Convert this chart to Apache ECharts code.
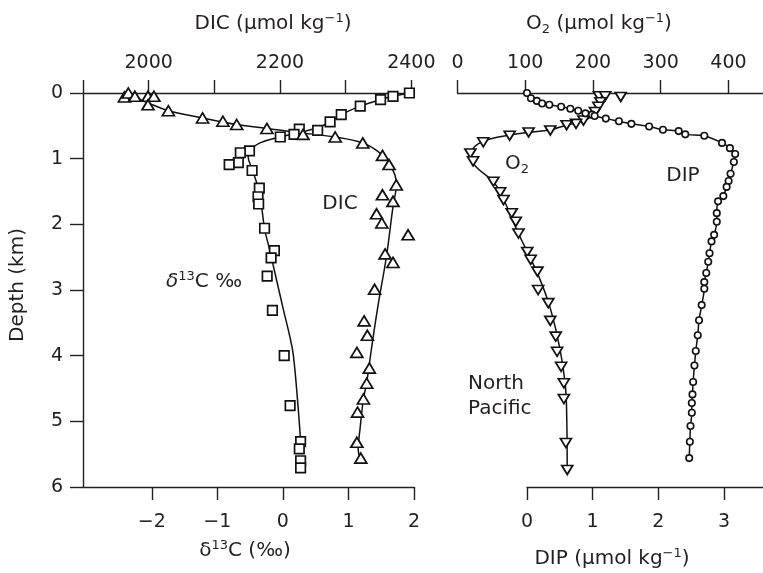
<!DOCTYPE html>
<html><head><meta charset="utf-8">
<script src="https://cdn.jsdelivr.net/npm/echarts@6/dist/echarts.min.js"></script>
<style>html,body{margin:0;padding:0;background:#fff}#c{width:763px;height:573px}</style>
</head><body><div id="c"></div>
<script>
// ---- tick values ----
const depthTicks = [0, 1, 2, 3, 4, 5, 6];
const d13cTicks = [-2, -1, 0, 1, 2];
const dicTickValues = [1900, 2000, 2100, 2200, 2300, 2400];
const dicLabelValues = [2000, 2200, 2400];
const o2Ticks = [0, 100, 200, 300, 400];
const dipTicks = [0, 1, 2, 3];

// ---- δ13C (‰) vs depth (km) : squares ----
const d13cObs = [[1.93,0.0],[1.68,0.05],[1.49,0.10],[1.18,0.20],[0.89,0.33],[0.72,0.44],[0.53,0.57],[0.25,0.55],[0.17,0.63],[-0.04,0.67],[-0.51,0.88],[-0.65,0.91],[-0.68,1.06],[-0.82,1.09],[-0.47,1.18],[-0.36,1.45],[-0.38,1.58],[-0.37,1.69],[-0.28,2.06],[-0.13,2.40],[-0.18,2.51],[-0.24,2.79],[-0.16,3.31],[0.02,4.00],[0.11,4.76],[0.27,5.31],[0.25,5.42],[0.27,5.60],[0.27,5.71]];
const d13cFit = [[1.93,0.0],[1.68,0.05],[1.49,0.10],[1.18,0.20],[0.89,0.33],[0.72,0.44],[0.53,0.53],[0.25,0.60],[-0.04,0.67],[-0.35,0.76],[-0.47,0.85],[-0.53,0.97],[-0.47,1.16],[-0.36,1.51],[-0.28,2.06],[-0.20,2.40],[-0.11,2.79],[0.01,3.31],[0.11,3.73],[0.16,4.0],[0.23,4.76],[0.27,5.31]];

// ---- DIC (µmol/kg) vs depth : triangles ----
const dicObs = [[1963,0.06],[1969,0.0],[1979,0.05],[1999,0.05],[2008,0.05],[1999,0.18],[2030,0.27],[2082,0.38],[2113,0.43],[2134,0.48],[2180,0.54],[2235,0.63],[2284,0.67],[2326,0.76],[2356,0.95],[2366,1.09],[2377,1.40],[2356,1.55],[2372,1.65],[2347,1.84],[2355,1.98],[2395,2.16],[2360,2.45],[2372,2.58],[2344,2.99],[2328,3.47],[2333,3.69],[2317,3.95],[2336,4.19],[2332,4.42],[2327,4.66],[2318,4.86],[2317,5.32],[2323,5.56]];
const dicFit = [[1971,0.03],[1999,0.15],[2030,0.27],[2082,0.38],[2134,0.48],[2180,0.54],[2225,0.60],[2284,0.67],[2326,0.76],[2349,0.89],[2365,1.05],[2375,1.25],[2377,1.40],[2372,1.73],[2362,2.49],[2349,3.25],[2339,3.91],[2332,4.41],[2327,4.66],[2322,5.10],[2319,5.43],[2322,5.56]];

// ---- O2 (µmol/kg) vs depth : inverted triangles ----
const o2Obs = [[209,0.05],[218,0.05],[241,0.06],[211,0.14],[208,0.21],[203,0.29],[186,0.42],[175,0.47],[161,0.49],[137,0.57],[105,0.60],[77,0.65],[38,0.75],[19,0.92],[23,1.04],[53,1.35],[63,1.51],[68,1.63],[80,1.83],[86,1.96],[90,2.14],[103,2.42],[108,2.54],[118,2.72],[119,3.00],[134,3.20],[137,3.47],[145,3.71],[147,3.94],[153,4.17],[157,4.42],[157,4.66],[160,5.33],[162,5.74]];
const o2Fit = [[210,0.06],[206,0.29],[196,0.37],[186,0.42],[161,0.49],[137,0.56],[105,0.60],[77,0.64],[48,0.70],[31,0.77],[21,0.87],[19,0.97],[28,1.13],[53,1.35],[65,1.55],[90,2.14],[119,2.77],[137,3.28],[151,3.89],[159,4.44],[161,4.80],[162,5.74]];

// ---- DIP (µmol/kg) vs depth : circles ----
const dipObs = [[0.0,0.0],[0.06,0.08],[0.15,0.12],[0.23,0.16],[0.34,0.18],[0.52,0.21],[0.66,0.24],[0.78,0.27],[0.89,0.31],[0.99,0.33],[1.03,0.35],[1.20,0.39],[1.40,0.43],[1.59,0.47],[1.86,0.51],[2.07,0.56],[2.31,0.58],[2.41,0.63],[2.70,0.65],[2.97,0.76],[3.09,0.84],[3.17,0.93],[3.15,1.05],[3.10,1.23],[3.07,1.34],[3.04,1.43],[2.99,1.57],[2.91,1.65],[2.89,1.83],[2.89,1.96],[2.85,2.16],[2.81,2.26],[2.78,2.44],[2.76,2.57],[2.73,2.74],[2.70,2.88],[2.70,2.98],[2.66,3.23],[2.62,3.46],[2.60,3.69],[2.57,3.93],[2.55,4.15],[2.53,4.40],[2.52,4.59],[2.51,4.72],[2.51,4.87],[2.49,5.07],[2.48,5.31],[2.47,5.56]];

const FONT = 'DejaVu Sans';
const INK = '#231f20';
const axisLine = {show: true, onZero: false, lineStyle: {color: INK, width: 1.4}};
const axisTickBase = {show: true, length: 13, lineStyle: {color: INK, width: 1.4}};
const lbl = {color: INK, fontFamily: FONT, fontSize: 19};
const minus = v => String(v).replace('-', '\u2212');
const plain = v => String(v);

const chart = echarts.init(document.getElementById('c'), null, {renderer: 'canvas'});

const yBase = {type: 'value', min: 0, max: 6, inverse: true, splitLine: {show: false}};
const markStyle = {color: '#fff', borderColor: '#111', borderWidth: 1.7, opacity: 1};
const fitLine = {color: '#111', width: 1.5};

const option = {
  animation: false,
  backgroundColor: '#ffffff',
  grid: [
    {left: 83, top: 93, width: 331, height: 394},
    {left: 457.5, top: 93, width: 305.5, height: 394},
    {left: 527, top: 93, width: 236, height: 394}
  ],
  xAxis: [
    {gridIndex: 0, type: 'value', position: 'bottom', min: -3.05, max: 2.0,
     axisLine: axisLine, splitLine: {show: false},
     axisTick: Object.assign({}, axisTickBase, {customValues: d13cTicks}),
     axisLabel: Object.assign({}, lbl, {customValues: d13cTicks, margin: 26, formatter: minus})},
    {gridIndex: 0, type: 'value', position: 'top', min: 1900, max: 2404,
     axisLine: axisLine, splitLine: {show: false},
     axisTick: Object.assign({}, axisTickBase, {customValues: dicTickValues}),
     axisLabel: Object.assign({}, lbl, {customValues: dicLabelValues, margin: 20, formatter: plain})},
    {gridIndex: 1, type: 'value', position: 'top', min: 0, max: 451, interval: 100,
     axisLine: axisLine, splitLine: {show: false},
     axisTick: Object.assign({}, axisTickBase, {customValues: o2Ticks}),
     axisLabel: Object.assign({}, lbl, {customValues: o2Ticks, margin: 20, formatter: plain})},
    {gridIndex: 2, type: 'value', position: 'bottom', min: 0, max: 3.594, interval: 1,
     axisLine: axisLine, splitLine: {show: false},
     axisTick: Object.assign({}, axisTickBase, {customValues: dipTicks}),
     axisLabel: Object.assign({}, lbl, {customValues: dipTicks, margin: 26, formatter: plain})}
  ],
  yAxis: [
    Object.assign({}, yBase, {gridIndex: 0, interval: 1, axisLine: axisLine,
      axisTick: Object.assign({}, axisTickBase, {customValues: depthTicks}),
      axisLabel: Object.assign({}, lbl, {customValues: depthTicks, margin: 20, formatter: plain})}),
    Object.assign({}, yBase, {gridIndex: 1, show: false}),
    Object.assign({}, yBase, {gridIndex: 2, show: false})
  ],
  series: [
    {type: 'line', xAxisIndex: 0, yAxisIndex: 0, data: d13cFit, smooth: 0.4, showSymbol: false,
     lineStyle: fitLine, z: 2, silent: true},
    {type: 'scatter', xAxisIndex: 0, yAxisIndex: 0, data: d13cObs, symbol: 'rect', symbolSize: 9.5,
     itemStyle: markStyle, z: 3, clip: false},
    {type: 'line', xAxisIndex: 1, yAxisIndex: 0, data: dicFit, smooth: 0.4, showSymbol: false,
     lineStyle: fitLine, z: 2, silent: true},
    {type: 'scatter', xAxisIndex: 1, yAxisIndex: 0, data: dicObs, symbol: 'triangle', symbolSize: [12, 10],
     itemStyle: markStyle, z: 3, clip: false},
    {type: 'line', xAxisIndex: 2, yAxisIndex: 1, data: o2Fit, smooth: 0.4, showSymbol: false,
     lineStyle: fitLine, z: 2, silent: true},
    {type: 'scatter', xAxisIndex: 2, yAxisIndex: 1, data: o2Obs, symbol: 'triangle', symbolRotate: 180, symbolSize: [11, 9],
     itemStyle: markStyle, z: 3, clip: false},
    {type: 'line', xAxisIndex: 3, yAxisIndex: 2, data: dipObs, smooth: 0.25, symbol: 'circle', symbolSize: 6.5, showSymbol: true,
     lineStyle: fitLine,
     itemStyle: {color: '#fff', borderColor: '#111', borderWidth: 1.6, opacity: 1}, z: 3, clip: false}
  ],
  graphic: [
    txt(273, 24, '{a|DIC (\u03bcmol kg}{s|\u22121}{a|)}'),
    txt(599, 24, '{a|O}{b|2}{a| (\u03bcmol kg}{s|\u22121}{a|)}'),
    txt(245, 551, '{a|\u03b4}{s|13}{a|C (\u2030)}'),
    txt(612, 559, '{a|DIP (\u03bcmol kg}{s|\u22121}{a|)}'),
    txt(340, 204, '{a|DIC}'),
    txt(204, 282, '{i|\u03b4}{s|13}{a|C \u2030}'),
    txt(505, 164, '{a|O}{b|2}', 'left'),
    txt(683, 176, '{a|DIP}'),
    txt(468, 384, '{a|North}', 'left'),
    txt(468, 409, '{a|Pacific}', 'left'),
    {type: 'text', x: 18, y: 285, rotation: Math.PI / 2,
     style: {text: 'Depth (km)', fill: INK, fontFamily: FONT, fontSize: 20,
       align: 'center', verticalAlign: 'middle', textAlign: 'center', textVerticalAlign: 'middle'}}
  ]
};

function txt(x, y, text, align) {
  align = align || 'center';
  return {type: 'text', x: x, y: y,
    style: {text: text, align: align, verticalAlign: 'middle', textAlign: align, textVerticalAlign: 'middle',
      fill: INK, fontFamily: FONT, fontSize: 20,
      rich: {
        a: {fill: INK, fontFamily: FONT, fontSize: 20, lineHeight: 24},
        i: {fill: INK, fontFamily: FONT, fontSize: 20, lineHeight: 24, fontStyle: 'italic'},
        s: {fill: INK, fontFamily: FONT, fontSize: 13, lineHeight: 13, verticalAlign: 'top'},
        b: {fill: INK, fontFamily: FONT, fontSize: 13, lineHeight: 13, verticalAlign: 'bottom'}
      }}};
}

chart.setOption(option);
</script></body></html>
